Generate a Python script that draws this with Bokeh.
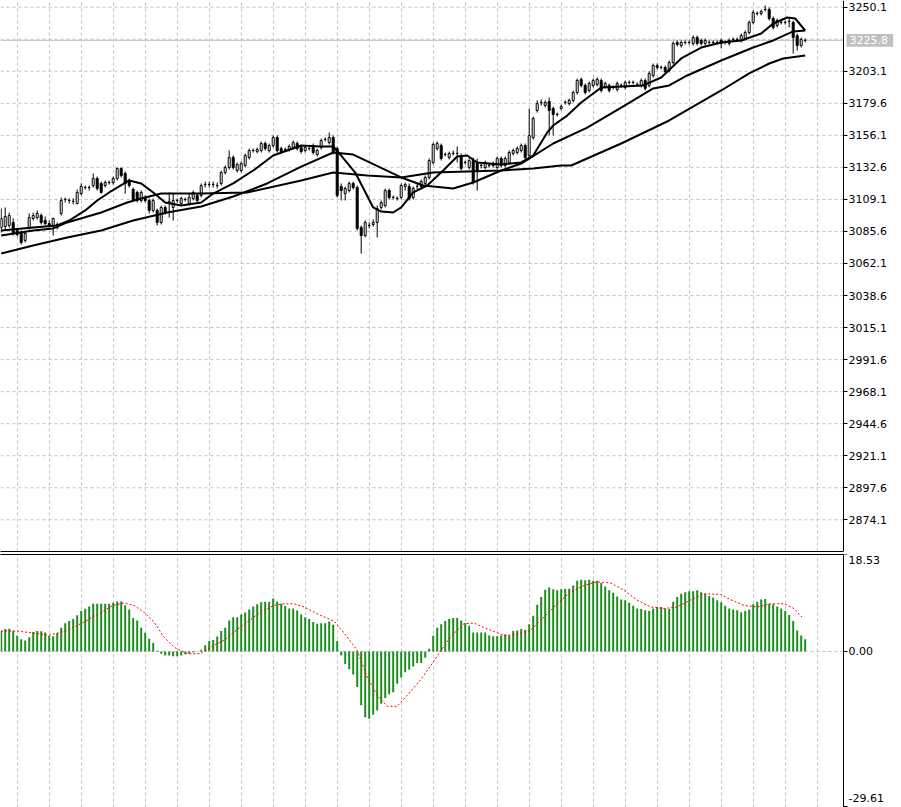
from bokeh.plotting import figure
from bokeh.layouts import column
from bokeh.models import Range1d, FixedTicker, NumeralTickFormatter, Label, ColumnDataSource
from bokeh.embed import file_html
from bokeh.resources import INLINE
from bokeh.core.properties import value

# ---------------- data ----------------
opens = [
    3088.5, 3089.2, 3090.0, 3092.2, 3086.3, 3084.8, 3079.0, 3088.5, 3095.1, 3095.8,
    3097.3, 3093.6, 3091.4, 3090.0, 3090.7, 3098.8, 3109.0, 3108.3, 3107.6, 3106.1,
    3113.4, 3117.8, 3117.8, 3119.3, 3124.4, 3120.8, 3119.3, 3121.5, 3121.5, 3124.4,
    3131.8, 3128.1, 3123.0, 3116.4, 3114.2, 3108.3, 3110.5, 3108.3, 3101.0, 3101.0,
    3092.2, 3103.2, 3106.1, 3103.2, 3108.3, 3106.1, 3109.0, 3106.1, 3109.8, 3112.0,
    3112.0, 3120.0, 3120.0, 3120.0, 3119.3, 3120.8, 3128.8, 3132.5, 3139.8, 3130.3,
    3130.3, 3134.0, 3139.8, 3145.0, 3144.2, 3145.0, 3150.1, 3145.0, 3148.6, 3154.5,
    3146.4, 3145.7, 3145.7, 3147.2, 3150.1, 3147.2, 3145.0, 3146.4, 3148.6, 3142.0,
    3147.2, 3153.0, 3150.8, 3154.5, 3146.4, 3118.6, 3113.4, 3115.6, 3120.8, 3117.8,
    3088.5, 3082.6, 3090.0, 3090.7, 3092.2, 3103.2, 3104.6, 3115.6, 3110.5, 3109.8,
    3110.5, 3118.6, 3118.6, 3110.5, 3118.6, 3118.6, 3120.8, 3125.2, 3136.2, 3146.4,
    3148.6, 3142.0, 3139.8, 3142.8, 3142.8, 3141.3, 3136.2, 3132.5, 3137.6, 3136.2,
    3134.0, 3132.5, 3134.0, 3135.4, 3132.5, 3139.1, 3134.0, 3136.2, 3142.8, 3143.5,
    3145.0, 3148.6, 3141.3, 3154.5, 3174.3, 3180.2, 3178.0, 3180.9, 3175.8, 3171.4,
    3175.8, 3180.2, 3179.4, 3181.7, 3187.5, 3197.1, 3192.7, 3189.0, 3192.7, 3193.4,
    3196.3, 3191.9, 3192.7, 3191.2, 3189.7, 3192.7, 3191.2, 3194.9, 3194.9, 3193.4,
    3192.7, 3196.3, 3192.7, 3200.0, 3207.3, 3205.9, 3205.9, 3203.7, 3209.5, 3224.2,
    3222.0, 3224.2, 3224.2, 3223.5, 3227.9, 3225.7, 3223.5, 3224.2, 3224.2, 3224.2,
    3225.7, 3224.2, 3223.5, 3226.4, 3226.4, 3225.7, 3227.1, 3231.5, 3238.9, 3245.5,
    3245.5, 3248.4, 3248.4, 3241.8, 3236.7, 3238.9, 3238.9, 3239.6, 3238.9, 3229.3,
    3222.0, 3225.7,
]
highs = [
    3102.4, 3103.2, 3099.5, 3095.1, 3087.8, 3086.3, 3085.6, 3098.8, 3099.5, 3101.0,
    3098.8, 3096.6, 3093.6, 3095.8, 3092.2, 3110.5, 3110.5, 3109.8, 3109.8, 3116.4,
    3120.8, 3119.3, 3119.3, 3128.1, 3125.9, 3122.2, 3123.0, 3123.0, 3125.9, 3132.5,
    3132.5, 3129.6, 3124.4, 3117.8, 3115.6, 3115.6, 3112.0, 3109.8, 3109.8, 3102.4,
    3104.6, 3104.6, 3114.2, 3113.4, 3109.8, 3111.2, 3110.5, 3113.4, 3115.6, 3113.4,
    3120.8, 3122.2, 3122.2, 3122.2, 3121.5, 3130.3, 3134.0, 3145.0, 3141.3, 3136.2,
    3136.9, 3142.8, 3146.4, 3146.4, 3147.2, 3151.6, 3151.6, 3150.1, 3156.0, 3156.0,
    3147.9, 3147.2, 3149.4, 3152.3, 3151.6, 3148.6, 3148.6, 3147.9, 3150.1, 3146.4,
    3153.8, 3154.5, 3158.2, 3156.0, 3147.9, 3120.8, 3118.6, 3122.2, 3122.2, 3119.3,
    3090.0, 3093.6, 3092.2, 3094.4, 3104.6, 3108.3, 3117.1, 3117.1, 3112.0, 3111.2,
    3120.8, 3121.5, 3120.8, 3118.6, 3120.8, 3123.7, 3126.6, 3139.1, 3150.8, 3151.6,
    3150.1, 3143.5, 3144.2, 3145.0, 3147.9, 3142.8, 3137.6, 3139.1, 3139.8, 3139.1,
    3135.4, 3137.6, 3135.4, 3136.9, 3140.6, 3140.6, 3140.6, 3145.0, 3146.4, 3147.9,
    3150.1, 3150.1, 3175.8, 3169.9, 3181.7, 3182.4, 3181.7, 3183.9, 3177.2, 3172.8,
    3178.7, 3181.7, 3183.1, 3189.0, 3197.8, 3198.5, 3194.1, 3195.6, 3197.8, 3198.5,
    3197.8, 3195.6, 3194.1, 3192.7, 3195.6, 3194.1, 3196.3, 3196.3, 3196.3, 3194.9,
    3197.8, 3197.8, 3202.9, 3208.8, 3208.8, 3207.3, 3207.3, 3211.0, 3224.9, 3225.7,
    3225.7, 3225.7, 3225.7, 3229.3, 3229.3, 3227.1, 3227.1, 3225.7, 3225.7, 3225.7,
    3227.1, 3225.7, 3227.1, 3227.9, 3227.9, 3230.8, 3233.0, 3240.3, 3247.7, 3246.9,
    3248.4, 3251.3, 3249.9, 3243.3, 3241.8, 3240.3, 3240.3, 3241.8, 3240.3, 3230.8,
    3227.9, 3227.1,
]
lows = [
    3084.8, 3087.0, 3088.5, 3082.6, 3081.9, 3076.0, 3077.5, 3087.0, 3093.6, 3094.4,
    3090.7, 3090.0, 3088.5, 3082.6, 3087.0, 3097.3, 3106.8, 3106.1, 3105.4, 3105.4,
    3112.0, 3116.4, 3115.6, 3117.8, 3115.6, 3113.4, 3117.8, 3120.0, 3120.0, 3123.0,
    3125.2, 3113.4, 3117.8, 3107.6, 3106.8, 3106.8, 3106.8, 3098.8, 3099.5, 3090.0,
    3090.7, 3098.0, 3095.8, 3093.6, 3106.8, 3104.6, 3107.6, 3104.6, 3108.3, 3106.8,
    3110.5, 3117.8, 3117.8, 3117.8, 3117.1, 3119.3, 3127.4, 3131.0, 3131.0, 3128.8,
    3128.8, 3132.5, 3138.4, 3143.5, 3142.8, 3143.5, 3145.0, 3143.5, 3147.2, 3143.5,
    3142.8, 3144.2, 3144.2, 3145.7, 3145.0, 3142.8, 3143.5, 3145.0, 3142.0, 3140.6,
    3145.7, 3151.6, 3149.4, 3142.0, 3110.5, 3108.3, 3108.3, 3114.2, 3116.4, 3086.3,
    3069.4, 3081.2, 3087.8, 3089.2, 3081.2, 3101.7, 3103.2, 3109.0, 3109.0, 3108.3,
    3109.0, 3115.6, 3108.3, 3109.0, 3116.4, 3117.1, 3119.3, 3123.7, 3134.7, 3145.0,
    3137.6, 3140.6, 3138.4, 3141.3, 3136.2, 3130.3, 3134.7, 3131.0, 3120.0, 3115.6,
    3131.8, 3131.0, 3132.5, 3132.5, 3131.0, 3132.5, 3132.5, 3134.7, 3141.3, 3142.0,
    3143.5, 3138.4, 3139.8, 3153.0, 3172.8, 3178.0, 3176.5, 3156.0, 3156.0, 3169.9,
    3174.3, 3178.7, 3178.0, 3180.2, 3186.0, 3191.2, 3186.0, 3187.5, 3191.2, 3192.0,
    3187.5, 3190.5, 3187.5, 3189.7, 3188.3, 3191.2, 3189.7, 3193.4, 3193.4, 3191.9,
    3191.2, 3189.0, 3191.2, 3198.5, 3204.4, 3204.4, 3201.5, 3202.2, 3208.1, 3221.3,
    3220.5, 3222.7, 3222.7, 3222.0, 3222.0, 3222.0, 3222.0, 3222.7, 3222.7, 3222.7,
    3219.8, 3222.7, 3222.0, 3224.9, 3224.9, 3224.2, 3225.7, 3230.1, 3237.4, 3244.0,
    3244.0, 3246.9, 3240.3, 3233.7, 3235.2, 3237.4, 3237.4, 3235.2, 3216.1, 3218.3,
    3220.5, 3224.2,
]
closes = [
    3095.1, 3096.6, 3097.3, 3084.1, 3083.4, 3077.5, 3084.1, 3095.8, 3097.3, 3098.8,
    3092.2, 3091.4, 3090.0, 3095.1, 3088.5, 3108.3, 3109.1, 3108.4, 3107.7, 3114.2,
    3118.6, 3117.9, 3117.9, 3124.4, 3117.1, 3114.2, 3121.5, 3121.6, 3124.4, 3131.8,
    3126.6, 3120.8, 3119.3, 3108.3, 3108.3, 3114.2, 3108.3, 3101.0, 3108.3, 3092.2,
    3103.2, 3099.5, 3107.6, 3108.3, 3108.4, 3109.8, 3109.1, 3110.5, 3114.2, 3108.3,
    3119.3, 3120.1, 3120.1, 3120.1, 3119.4, 3128.8, 3132.5, 3139.8, 3132.5, 3134.7,
    3135.4, 3141.3, 3145.0, 3145.1, 3145.7, 3150.1, 3146.4, 3148.6, 3154.5, 3145.0,
    3144.2, 3145.8, 3147.9, 3150.8, 3146.4, 3144.2, 3147.2, 3146.5, 3143.5, 3145.0,
    3152.3, 3153.1, 3154.5, 3143.5, 3112.0, 3115.6, 3117.1, 3120.8, 3117.8, 3087.8,
    3082.6, 3092.2, 3090.1, 3092.2, 3102.4, 3106.8, 3115.6, 3110.5, 3110.6, 3109.9,
    3119.3, 3120.0, 3109.8, 3117.1, 3118.7, 3122.2, 3125.2, 3137.6, 3149.4, 3150.1,
    3139.1, 3142.1, 3142.8, 3142.9, 3142.9, 3131.8, 3136.3, 3137.6, 3121.5, 3130.3,
    3134.1, 3136.2, 3134.1, 3134.0, 3139.1, 3134.0, 3139.1, 3143.5, 3145.0, 3146.4,
    3148.6, 3139.8, 3156.0, 3168.4, 3179.4, 3180.3, 3180.2, 3174.3, 3171.4, 3171.5,
    3177.2, 3180.3, 3181.7, 3187.5, 3196.3, 3192.7, 3187.5, 3194.1, 3196.3, 3197.1,
    3189.0, 3194.1, 3189.0, 3191.3, 3194.1, 3192.8, 3194.9, 3195.0, 3195.0, 3193.5,
    3196.3, 3190.5, 3201.5, 3207.3, 3205.9, 3206.0, 3202.9, 3209.5, 3223.5, 3222.7,
    3224.2, 3224.3, 3224.3, 3227.9, 3223.5, 3223.5, 3225.7, 3224.3, 3224.3, 3224.3,
    3223.5, 3224.3, 3225.7, 3226.5, 3226.5, 3229.3, 3231.5, 3238.9, 3246.2, 3245.6,
    3246.9, 3248.5, 3241.8, 3235.2, 3240.3, 3239.0, 3239.0, 3239.7, 3227.9, 3222.0,
    3226.4, 3225.8,
]

# moving averages (bar position, price) read at nodes
fast_idx = [0, 8, 14, 17, 21, 24, 27, 32, 35, 38, 41, 45, 50, 53, 58, 63, 68, 75, 80, 83,
            85, 88.5, 93, 95, 98, 100, 103, 106.5, 110.5, 114, 116.5, 119, 125, 130, 133,
            136.5, 138, 141.5, 145, 150, 160.5, 165, 170, 175, 180, 185, 190, 193, 196.5,
            198.5, 201]
fast_val = [3086.3, 3088.5, 3090.0, 3093.6, 3101.0, 3108.3, 3114.2, 3123.0, 3120.8, 3114.2,
            3106.8, 3104.6, 3106.8, 3113.4, 3120.8, 3130.3, 3141.3, 3148.6, 3147.9, 3147.9,
            3141.3, 3128.8, 3103.2, 3100.2, 3099.5, 3103.2, 3114.2, 3119.3, 3130.3, 3140.6,
            3141.3, 3136.2, 3134.7, 3136.2, 3141.3, 3158.2, 3163.3, 3170.6, 3180.2, 3191.2,
            3192.7, 3198.5, 3212.5, 3220.5, 3224.2, 3225.7, 3230.8, 3238.1, 3242.5, 3241.8,
            3233.0]
mid_idx = [0, 8, 16.5, 25, 33, 41.5, 50, 58, 62, 66.5, 75, 83, 88, 100, 105.5, 113, 118,
           125, 130, 138, 146.5, 155, 163, 167, 171.5, 180, 188, 193, 198, 201]
mid_val = [3069.4, 3075.3, 3081.2, 3086.3, 3093.6, 3099.5, 3103.9, 3111.2, 3115.6, 3120.8,
           3133.2, 3143.5, 3142.0, 3125.2, 3119.3, 3117.1, 3121.5, 3130.3, 3135.4, 3150.1,
           3161.8, 3176.5, 3190.5, 3192.7, 3200.0, 3211.0, 3220.5, 3225.7, 3232.3, 3233.0]
slow_idx = [0, 8, 13, 16.5, 25, 31.5, 35, 40, 50, 61.5, 75, 83, 91.5, 100, 108, 125, 133,
            140, 142.5, 155, 167, 180, 187, 192, 195.5, 201]
slow_val = [3082.6, 3086.3, 3087.8, 3092.2, 3099.5, 3106.8, 3109.8, 3113.4, 3113.4, 3114.2,
            3123.0, 3128.8, 3126.6, 3125.2, 3128.8, 3130.3, 3131.8, 3134.0, 3134.0, 3150.1,
            3167.0, 3189.0, 3201.5, 3208.8, 3212.5, 3214.7]

# MACD histogram (one value per bar) and signal line nodes
macd = [
    3.9, 4.3, 4.35, 3.9, 3.0, 2.3, 2.1, 2.7, 3.7, 3.9,
    3.85, 3.6, 3.0, 2.9, 3.5, 4.5, 5.4, 5.8, 6.2, 6.9,
    7.7, 8.15, 8.6, 9.1, 9.1, 9.1, 9.1, 9.1, 9.3, 9.55,
    9.55, 8.8, 8.0, 6.4, 5.9, 4.5, 3.55, 2.4, 1.6, 0.1,
    -0.45, -0.8, -0.8, -0.95, -0.95, -0.8, -0.55, -0.45, -0.2, -0.05,
    0.3, 1.15, 1.97, 2.2, 2.85, 3.9, 4.5, 5.9, 6.55, 6.55,
    7.05, 7.45, 8.0, 8.6, 9.0, 9.4, 9.5, 9.5, 10.1, 9.55,
    9.1, 8.7, 8.2, 8.2, 7.8, 7.05, 6.55, 6.2, 5.6, 5.3,
    5.4, 5.4, 5.7, 5.1, 2.0, -0.8, -2.4, -3.4, -4.4, -6.8,
    -10.3, -12.6, -12.9, -12.1, -11.3, -10.0, -8.9, -8.2, -7.8, -6.2,
    -5.0, -4.0, -3.5, -2.9, -2.2, -2.2, -1.2, 0.5, 3.0, 4.5,
    5.2, 5.8, 6.2, 6.4, 6.4, 5.9, 5.4, 4.9, 3.6, 3.6,
    3.6, 3.6, 3.06, 2.9, 2.9, 3.06, 3.25, 3.06, 3.9, 4.0,
    4.3, 4.15, 5.2, 6.8, 8.9, 10.4, 11.8, 12.2, 11.9, 11.7,
    11.9, 12.0, 12.0, 12.6, 13.5, 13.7, 13.6, 13.7, 13.5, 13.5,
    13.1, 12.4, 11.7, 11.2, 10.5, 9.9, 9.8, 9.3, 8.75, 8.2,
    8.1, 7.85, 7.7, 8.2, 8.5, 8.5, 8.2, 8.1, 9.5, 10.4,
    11.0, 11.3, 11.5, 11.5, 11.7, 11.3, 11.0, 10.6, 10.3, 9.8,
    9.4, 8.75, 8.2, 8.0, 7.85, 7.5, 7.7, 8.0, 9.0, 9.5,
    9.9, 10.0, 9.1, 9.0, 8.6, 8.2, 7.7, 6.95, 5.8, 4.0,
    3.06, 2.3,
]
sig_idx = [0, 4, 8, 12, 16.5, 20.7, 25, 28, 30.7, 33.2, 35.7, 38.2, 40.7, 43.2, 46.5, 49.8,
           52.3, 55.7, 58.2, 61.5, 64.8, 68.2, 70.7, 73.2, 75.7, 78.2, 80.7, 83.2, 86.5, 89,
           91.5, 94, 96.5, 99, 101.5, 104.8, 107.5, 110, 112.3, 115.7, 118.2, 121.5, 125.7,
           129, 132.3, 135.7, 139, 142.3, 145.7, 149, 152.3, 155.7, 159, 162.3, 165.7, 169,
           172.3, 175.7, 179.8, 182.3, 185.7, 189, 192.3, 195.7, 198.2, 200.2]
sig_val = [3.9, 3.9, 3.5, 3.1, 4.0, 5.6, 7.5, 8.8, 9.25, 8.8, 7.5, 5.6, 2.75, 0.8, -0.45,
           -0.45, 0.8, 2.1, 3.7, 5.6, 7.5, 8.8, 9.1, 9.1, 8.5, 7.5, 6.6, 5.8, 2.75, 0.2,
           -4.9, -8.4, -10.5, -10.5, -8.4, -5.5, -2.6, 0.2, 2.75, 5.3, 5.4, 4.3, 3.06, 3.25,
           4.0, 6.55, 9.1, 11.35, 12.6, 13.3, 13.1, 11.7, 9.8, 8.5, 8.2, 8.5, 9.8, 11.0,
           10.9, 9.9, 8.8, 8.5, 9.1, 9.1, 8.2, 6.55]

# axis ticks / labels
price_ticks = [2874.1, 2897.6, 2921.1, 2944.6, 2968.1, 2991.6, 3015.1, 3038.6, 3062.1,
               3085.6, 3109.1, 3132.6, 3156.1, 3179.6, 3203.1, 3226.6, 3250.1]
price_labels = [2874.1, 2897.6, 2921.1, 2944.6, 2968.1, 2991.6, 3015.1, 3038.6, 3062.1,
                3085.6, 3109.1, 3132.6, 3156.1, 3179.6, 3203.1, 3250.1]
last_price = 3225.8
price_min, price_max = 2850.85, 3255.0
macd_min, macd_max = -29.61, 18.53
grid_x = [4, 12, 20, 28, 36, 44, 52, 60, 68, 76, 84, 92, 100, 108, 116, 124, 132, 140,
          148, 156, 164, 172, 180, 188, 196, 204]

# ---------------- layout / styling ----------------
FONT = "DejaVu Sans"
FS = "11px"
GRID = "#c0c0c0"
W = 901            # whole width; the price scale sits inside the frame
PX_PER_BAR = 4.0
X0 = -0.175
AXIS_X = X0 + 843 / PX_PER_BAR          # where the vertical price scale is drawn
xr = Range1d(X0, X0 + W / PX_PER_BAR)

bars = list(range(len(closes)))
src = ColumnDataSource(dict(
    x=bars, o=opens, h=highs, l=lows, c=closes,
    top=[max(o, c) for o, c in zip(opens, closes)],
    bottom=[min(o, c) for o, c in zip(opens, closes)],
    fill=["white" if c >= o else "black" for o, c in zip(opens, closes)],
))


def style_common(p, yticks, fmt):
    p.xgrid.ticker = FixedTicker(ticks=grid_x)
    p.xgrid.grid_line_color = GRID
    p.xgrid.grid_line_dash = "3 3"
    p.ygrid.visible = False
    ax = p.xaxis[0]
    ax.ticker = FixedTicker(ticks=[])
    ax.bounds = (X0, AXIS_X)
    ax.major_label_text_font_size = "0px"
    ax.major_label_standoff = 0
    ax.major_tick_out = 0
    ax.major_tick_in = 0
    ax.minor_tick_out = 0
    ax.minor_tick_in = 0
    ax.major_tick_line_color = None
    ax.minor_tick_line_color = None
    ax.axis_line_color = "black"
    ay = p.yaxis[0]
    ay.fixed_location = AXIS_X
    ay.ticker = FixedTicker(ticks=yticks)
    ay.formatter = NumeralTickFormatter(format=fmt)
    ay.axis_line_color = "black"
    ay.major_tick_line_color = "black"
    ay.major_tick_out = 4
    ay.major_tick_in = 0
    ay.minor_tick_line_color = None
    ay.major_label_standoff = 1
    ay.major_label_text_font = FONT
    ay.major_label_text_font_size = FS
    ay.major_label_text_color = "black"


def hgrid(p, ys):
    p.segment(x0=[X0] * len(ys), x1=[AXIS_X] * len(ys), y0=ys, y1=ys,
              line_color=GRID, line_dash="3 3", line_width=1, level="underlay")


# ---- price panel ----
top = figure(frame_width=W, frame_height=551, x_range=xr,
             y_range=Range1d(price_min, price_max),
             output_backend="svg", toolbar_location=None,
             x_axis_location="below", y_axis_location="right",
             min_border_left=0, min_border_top=0, min_border_bottom=1, min_border_right=0,
             background_fill_color="white", border_fill_color="white",
             outline_line_color=None)
style_common(top, price_labels, "0.0")
hgrid(top, price_ticks)
top.segment(x0=[X0], x1=[AXIS_X], y0=[last_price], y1=[last_price],
            line_color=GRID, line_width=1, level="underlay")

top.segment(x0="x", y0="l", x1="x", y1="h", source=src, line_color="black", line_width=1)
top.vbar(x="x", width=0.5, top="top", bottom="bottom", source=src,
         fill_color="fill", line_color="black", line_width=1)

for xs, ys in ((slow_idx, slow_val), (mid_idx, mid_val), (fast_idx, fast_val)):
    top.line(xs, ys, line_color="black", line_width=2)

# last-price tag on the scale
px_per_price = 551 / (price_max - price_min)
tag_half = 6.35 / px_per_price
top.quad(left=[AXIS_X + 3 / PX_PER_BAR], right=[AXIS_X + 49.7 / PX_PER_BAR],
         top=[last_price + tag_half], bottom=[last_price - tag_half],
         fill_color=GRID, line_color=None)
top.text(x=[AXIS_X], y=[last_price], text=["%.1f" % last_price], x_offset=6,
         text_color="white", text_font=value(FONT), text_font_size=FS,
         text_baseline="middle", text_align="left")

# ---- MACD panel ----
bot = figure(frame_width=W, frame_height=253, x_range=xr,
             y_range=Range1d(macd_min - 0.25, macd_max),
             output_backend="svg", toolbar_location=None,
             x_axis_location="above", y_axis_location="right",
             min_border_left=0, min_border_top=2, min_border_bottom=0, min_border_right=0,
             background_fill_color="white", border_fill_color="white",
             outline_line_color=None)
style_common(bot, [macd_min, 0, macd_max], "0.00")
bot.yaxis[0].major_label_overrides = {macd_min: "", macd_max: ""}
hgrid(bot, [0])

bot.vbar(x=bars, top=macd, bottom=0, width=0.5, fill_color="#1f8c1f", line_color=None)
bot.line(sig_idx, sig_val, line_color="red", line_dash="2 2", line_width=1)

bot.add_layout(Label(x=AXIS_X, y=macd_max, x_offset=5, y_offset=-1,
                     text="%.2f" % macd_max, text_color="black", text_font=FONT,
                     text_font_size=FS, text_baseline="top", text_align="left"))
bot.add_layout(Label(x=AXIS_X, y=macd_min, x_offset=5, y_offset=4,
                     text="%.2f" % macd_min, text_color="black", text_font=FONT,
                     text_font_size=FS, text_baseline="bottom", text_align="left"))

layout = column(top, bot, spacing=0)
open("out.html", "w").write(file_html(layout, INLINE))
